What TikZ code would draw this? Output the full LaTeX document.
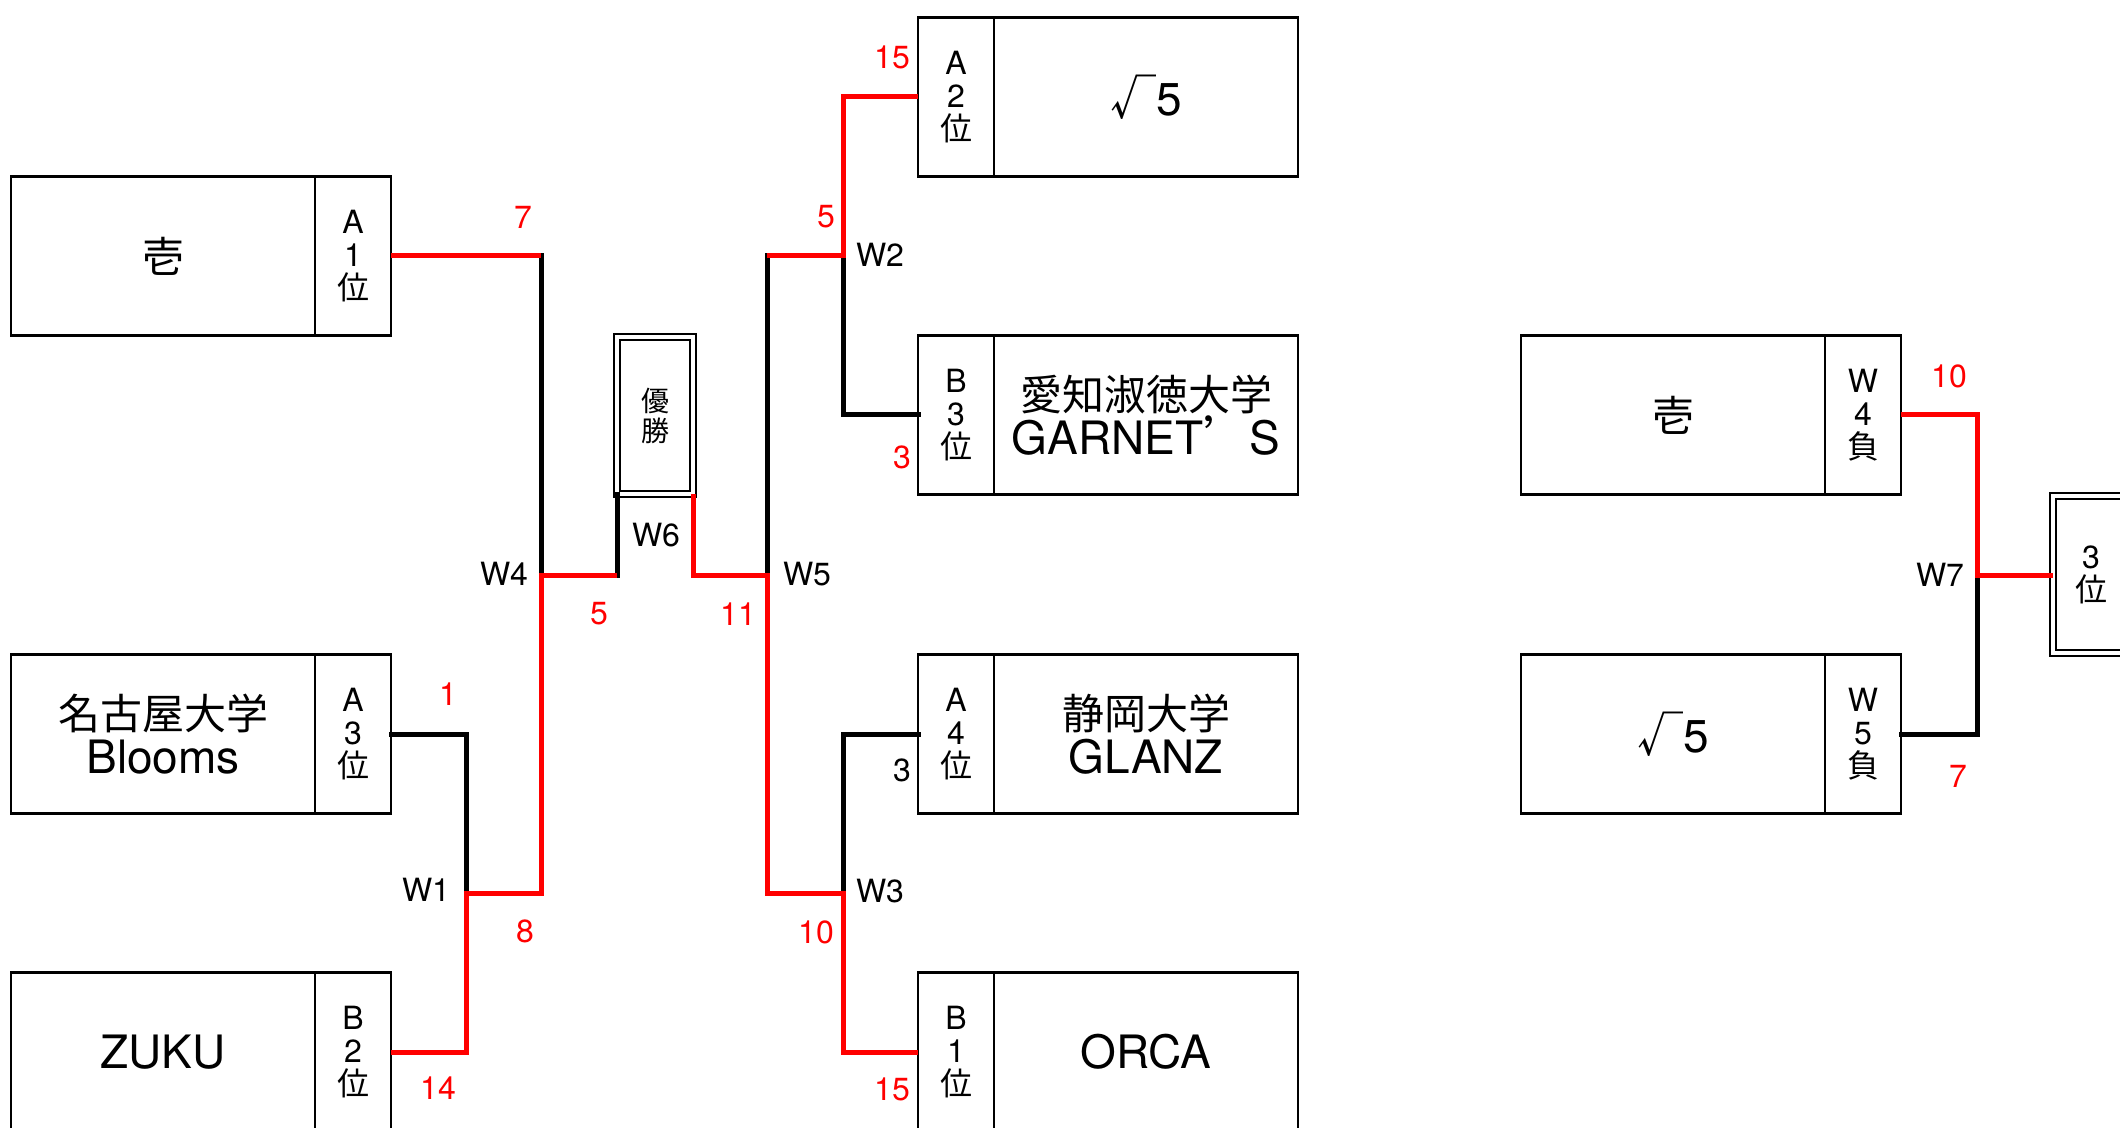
\documentclass[tikz,border=0pt]{standalone}
\usepackage{fontspec}
\setmainfont{TeX Gyre Heros}
\newfontfamily\jp{Noto Sans CJK JP}
\newcommand\kj[1]{{\jp\fontsize{21}{22}\selectfont #1}}
\usetikzlibrary{positioning}
\tikzset{
    team/.style={draw, line width=1.25pt, inner sep=0pt, outer sep=0pt,
        minimum width=152pt, minimum height=79.6pt, align=center,
        font=\fontsize{23}{22}\selectfont},
    seed/.style={draw, line width=1.25pt, inner sep=0pt, outer sep=0pt,
        minimum width=38pt, minimum height=79.6pt, align=center,
        font=\fontsize{16}{16.5}\selectfont},
    cup/.style={draw, double, line width=1pt, double distance=2pt,
        inner sep=0pt, outer sep=0pt, minimum width=38pt,
        minimum height=78.5pt, align=center},
    win/.style={draw=red, line width=2.5pt},
    lose/.style={draw=black, line width=2.5pt, line cap=rect},
    score/.style={text=red, inner sep=0pt, font=\fontsize{16}{16}\selectfont},
    game/.style={inner sep=0pt, font=\fontsize{16}{16}\selectfont},
}
\begin{document}
\begin{tikzpicture}[x=0.5pt, y=-0.5pt]
\useasboundingbox (0,0) rectangle (2120,1128);
% left block
\foreach \id/\team/\rank/\y in {A1/\kj{壱}/{A\\1\\{\jp 位}}/256,
        A3/{\kj{名古屋大学}\\Blooms}/{A\\3\\{\jp 位}}/734,
        B2/ZUKU/{B\\2\\{\jp 位}}/1052}{
    \node[team] (\id) at (163, \y) {\team};
    \node[seed, right=0pt of \id] (s\id) {\rank};
}
% right block
\foreach \id/\team/\rank/\y in {A2/{{\jp √}5}/{A\\2\\{\jp 位}}/97,
        B3/{\kj{愛知淑徳大学}\\GARNET{\jp\addfontfeature{RawFeature=+fwid}’}S}/{B\\3\\{\jp 位}}/415,
        A4/{\kj{静岡大学}\\GLANZ}/{A\\4\\{\jp 位}}/734,
        B1/ORCA/{B\\1\\{\jp 位}}/1052}{
    \node[team] (\id) at (1146, \y) {\team};
    \node[seed, left=0pt of \id] (s\id) {\rank};
}
% 3rd place
\node[team] (L4) at (1673, 415) {\kj{壱}};
\node[seed, right=0pt of L4] (sL4) {W\\4\\{\jp 負}};
\node[team] (L5) at (1673, 734) {{\jp √}5};
\node[seed, right=0pt of L5] (sL5) {W\\5\\{\jp 負}};

\node[cup, font=\jp\fontsize{14}{15}\selectfont] (champ) at (655, 415.5) {優\\勝};
\node[cup, font=\fontsize{16}{16.5}\selectfont] (third) at (2091, 574.5) {3\\{\jp 位}};

\coordinate (W1) at (466, 893);
\coordinate (W4) at (541, 575);
\coordinate (W2) at (843, 256);
\coordinate (W3) at (843, 893);
\coordinate (W5) at (767, 575);
\coordinate (W7) at (1977, 575);

\draw[lose] (sA1.east -| W4) -- (W4);
\draw[lose] (sA3.east) -| (W1);
\draw[lose] (W4 -| champ.south west) -- (champ.south west);
\draw[lose] (sB3.west) -| (W2);
\draw[lose] (W2 -| W5) -- (W5);
\draw[lose] (sA4.west) -| (W3);
\draw[lose] (sL5.east) -| (W7);

\draw[win] (sA1.east) -- (sA1.east -| W4);
\draw[win] (sB2.east) -| (W1) -| (W4) -- (W4 -| champ.south west);
\draw[win] (sA2.west) -| (W2) -- (W2 -| W5);
\draw[win] (sB1.west) -| (W3) -| (W5) -- (W5 -| champ.south east) -- (champ.south east);
\draw[win] (sL4.east) -| (W7) -- (W7 -| third.west);

\foreach \t/\x/\y [count=\i] in {7/523/217, 5/599/614, 1/448/694, 8/525/931,
        14/438/1088, 15/892/57, 5/826/217, 3/902/457, 11/738/614,
        10/816/932, 15/892/1089, 10/1949/376, 7/1958/776}{
    \node[score] (sc\i) at (\x, \y) {\t};
}
\foreach \t/\x/\y in {W4/504/574, W1/426/890, W6/656/535, W2/880/255,
        W5/807/574, W3/880/891, W7/1940/575}{
    \node[game] (g\t) at (\x, \y) {\t};
}
\node[game] (scA4) at (902, 770) {3};
\end{tikzpicture}
\end{document}
